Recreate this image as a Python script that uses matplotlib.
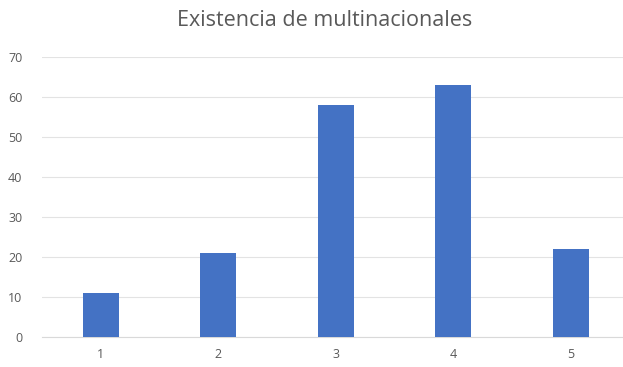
import matplotlib
matplotlib.use("Agg")
import matplotlib.pyplot as plt

# ── Data ──────────────────────────────────────────────────────────────────────
categories = ["1", "2", "3", "4", "5"]
values     = [11, 21, 58, 63, 22]
yticks     = [0, 10, 20, 30, 40, 50, 60, 70]

TITLE     = "Existencia de multinacionales"
BAR_COLOR = "#4472C4"
TEXT_COL  = "#595959"
GRID_COL  = "#E3E3E3"

plt.rcParams["font.family"] = ["Open Sans", "DejaVu Sans"]

# ── Plot ──────────────────────────────────────────────────────────────────────
W, H = 623, 367
fig = plt.figure(figsize=(W / 100, H / 100), dpi=100)
ax = fig.add_axes([42 / W, 30 / H, 587.5 / W, 280 / H])

x = list(range(1, len(categories) + 1))
ax.bar(x, values, width=0.31, color=BAR_COLOR, zorder=3)

ax.set_xlim(0.5, 5.5)
ax.set_ylim(0, 70)
ax.set_xticks(x)
ax.set_xticklabels(categories)
ax.set_yticks(yticks)
ax.tick_params(axis="both", length=0, labelsize=9, colors=TEXT_COL)
ax.tick_params(axis="x", pad=8)
ax.tick_params(axis="y", pad=14)

ax.grid(axis="y", color=GRID_COL, linewidth=0.8, zorder=0)
for side in ("top", "right", "left"):
    ax.spines[side].set_visible(False)
ax.spines["bottom"].set_color("#D9D9D9")
ax.spines["bottom"].set_linewidth(0.8)

fig.text(325 / W, 1 - 21 / H, TITLE, ha="center", va="center",
         fontsize=15.5, color=TEXT_COL)

fig.savefig("out.png", dpi=100)
